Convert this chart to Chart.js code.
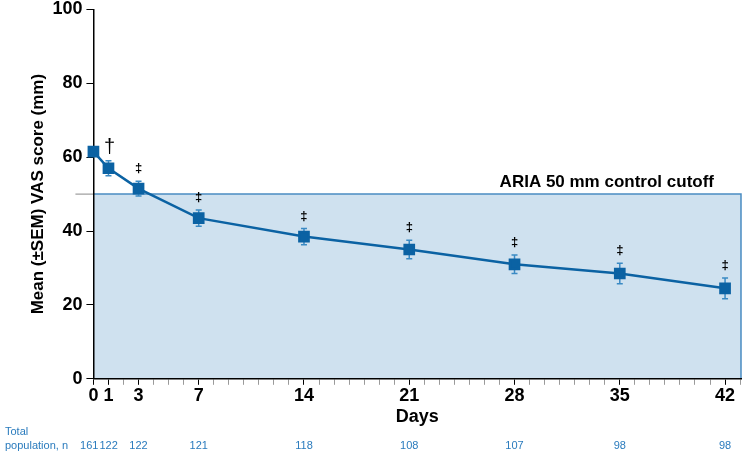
<!DOCTYPE html>
<html>
<head>
<meta charset="utf-8">
<script src="https://cdn.jsdelivr.net/npm/chart.js@4.4.1/dist/chart.umd.min.js"></script>
<style>
  html, body { margin: 0; padding: 0; background: #fff; }
  #wrap { width: 750px; height: 456px; }
</style>
</head>
<body>
<div id="wrap"><canvas id="vasChart"></canvas></div>
<script>
const days = [0, 1, 3, 7, 14, 21, 28, 35, 42];
const meanVas = [61.5, 57, 51.5, 43.5, 38.5, 35, 31, 28.5, 24.5];
const semVas = [0, 2, 2, 2.2, 2.2, 2.5, 2.5, 2.8, 2.8];
const sigMarks = ["", "†", "‡", "‡", "‡", "‡", "‡", "‡", "‡"];
const totalN = [161, 122, 122, 121, 118, 108, 107, 98, 98];
const yTicks = [0, 20, 40, 60, 80, 100];
const cutoff = 50;
const cutoffLabel = "ARIA 50 mm control cutoff";

const FONT = "'Liberation Sans', Arial, sans-serif";

const cutoffBox = {
    id: "cutoffBox",
    beforeDraw(chart) {
        const { ctx, chartArea, scales } = chart;
        const yTop = scales.y.getPixelForValue(cutoff);
        const yBot = scales.y.getPixelForValue(0);
        ctx.save();
        ctx.fillStyle = "#cfe1ef";
        ctx.fillRect(chartArea.left, yTop, chartArea.right - chartArea.left, yBot - yTop);
        ctx.strokeStyle = "#4a8cc2";
        ctx.lineWidth = 1.5;
        ctx.beginPath();
        ctx.moveTo(chartArea.left, yTop);
        ctx.lineTo(chartArea.right, yTop);
        ctx.lineTo(chartArea.right, yBot);
        ctx.stroke();
        ctx.strokeStyle = "#888";
        ctx.lineWidth = 1;
        ctx.beginPath();
        ctx.moveTo(chartArea.left - 18, yTop);
        ctx.lineTo(chartArea.left, yTop);
        ctx.stroke();
        ctx.restore();
    },
    beforeDatasetsDraw(chart) {
        const { ctx, scales } = chart;
        ctx.save();
        ctx.strokeStyle = "#3a8ac4";
        ctx.lineWidth = 1.5;
        days.forEach((d, i) => {
            if (!semVas[i]) return;
            const x = scales.x.getPixelForValue(d);
            const hi = scales.y.getPixelForValue(meanVas[i] + semVas[i]);
            const lo = scales.y.getPixelForValue(meanVas[i] - semVas[i]);
            ctx.beginPath();
            ctx.moveTo(x, hi); ctx.lineTo(x, lo);
            ctx.moveTo(x - 3, hi); ctx.lineTo(x + 3, hi);
            ctx.moveTo(x - 3, lo); ctx.lineTo(x + 3, lo);
            ctx.stroke();
        });
        ctx.restore();
    },
    afterDraw(chart) {
        const { ctx, scales } = chart;
        ctx.save();
        // significance marks
        ctx.fillStyle = "#000";
        ctx.textAlign = "center";
        ctx.textBaseline = "bottom";
        days.forEach((d, i) => {
            if (!sigMarks[i]) return;
            const x = scales.x.getPixelForValue(d);
            const y = scales.y.getPixelForValue(meanVas[i] + semVas[i]);
            if (sigMarks[i] === "†") {
                ctx.font = "20px " + FONT;
                ctx.fillText(sigMarks[i], x + 1, y - 3);
            } else {
                ctx.font = "bold 13px " + FONT;
                ctx.fillText(sigMarks[i], x, y - 6);
            }
        });
        // cutoff label
        ctx.font = "bold 17px " + FONT;
        ctx.textAlign = "right";
        ctx.textBaseline = "alphabetic";
        ctx.fillText(cutoffLabel, 714, scales.y.getPixelForValue(cutoff) - 7);
        // population row
        ctx.fillStyle = "#2a7bbd";
        ctx.font = "11px " + FONT;
        ctx.textAlign = "left";
        ctx.textBaseline = "middle";
        ctx.fillText("Total", 5, 432);
        ctx.fillText("population, n", 5, 446);
        days.forEach((d, i) => {
            const x = scales.x.getPixelForValue(d);
            if (i === 0) {
                ctx.textAlign = "right";
                ctx.fillText(String(totalN[i]), x + 5, 446);
            } else if (i === 1) {
                ctx.textAlign = "left";
                ctx.fillText(String(totalN[i]), x - 9, 446);
            } else {
                ctx.textAlign = "center";
                ctx.fillText(String(totalN[i]), x, 446);
            }
        });
        ctx.restore();
    }
};

new Chart(document.getElementById("vasChart"), {
    type: "line",
    data: {
        datasets: [{
            label: "Mean VAS",
            data: days.map((d, i) => ({ x: d, y: meanVas[i] })),
            borderColor: "#0b62a3",
            backgroundColor: "#0b62a3",
            borderWidth: 2.5,
            pointStyle: "rect",
            pointRadius: 6.5,
            pointHoverRadius: 6.5,
            tension: 0,
            fill: false,
            clip: false
        }]
    },
    options: {
        responsive: true,
        maintainAspectRatio: false,
        animation: false,
        layout: { padding: { top: 2, right: 1, bottom: 28, left: 28 } },
        plugins: {
            legend: { display: false },
            tooltip: { enabled: false }
        },
        scales: {
            x: {
                type: "linear",
                min: 0,
                max: 43.06,
                afterBuildTicks: (scale) => {
                    const t = [];
                    for (let d = 0; d <= 43; d++) t.push({ value: d });
                    scale.ticks = t;
                },
                ticks: {
                    autoSkip: false,
                    maxRotation: 0,
                    padding: 0,
                    color: "#000",
                    font: { family: FONT, size: 18, weight: "bold" },
                    callback: (v) => days.includes(v) ? String(v) : ""
                },
                grid: {
                    drawOnChartArea: false,
                    tickLength: 6,
                    tickColor: (c) => days.includes(c.tick && c.tick.value) ? "#000" : "#9a9a9a"
                },
                border: { color: "#000", width: 1.5 },
                title: {
                    display: true,
                    text: "Days",
                    color: "#000",
                    padding: { top: 0, bottom: 0 },
                    font: { family: FONT, size: 18, weight: "bold" }
                }
            },
            y: {
                min: 0,
                max: 100,
                afterBuildTicks: (scale) => { scale.ticks = yTicks.map(v => ({ value: v })); },
                ticks: {
                    padding: 4,
                    color: "#000",
                    font: { family: FONT, size: 18, weight: "bold", lineHeight: 0.6 }
                },
                grid: {
                    drawOnChartArea: false,
                    tickLength: 7,
                    tickColor: "#000"
                },
                border: { color: "#000", width: 1.5 },
                title: {
                    display: true,
                    text: "Mean (±SEM) VAS score (mm)",
                    color: "#000",
                    padding: { top: 0, bottom: 0 },
                    font: { family: FONT, size: 17, weight: "bold" }
                }
            }
        }
    },
    plugins: [cutoffBox]
});
</script>
</body>
</html>
